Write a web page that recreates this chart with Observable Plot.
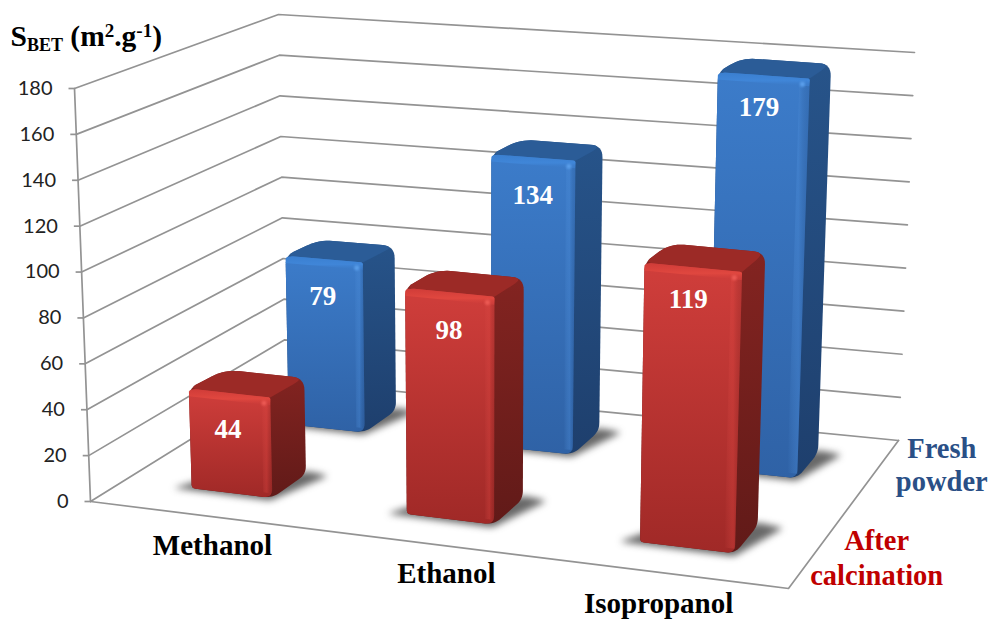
<!DOCTYPE html><html><head><meta charset="utf-8"><style>body{margin:0;background:#fff}svg{display:block}</style></head><body>
<script src="https://cdn.jsdelivr.net/npm/d3@7"></script><script src="https://cdn.jsdelivr.net/npm/@observablehq/plot@0.6"></script>
<script>
// ---- data ----
const solvents = ["Methanol", "Ethanol", "Isopropanol"];
const freshPowder = [79, 134, 179];
const afterCalcination = [44, 98, 119];
const valueTicks = [0, 20, 40, 60, 80, 100, 120, 140, 160, 180];
const yTitle = "SBET (m².g-1)";
const seriesLabels = {fresh: "Fresh\npowder", after: "After\ncalcination"};

// ---- the box of the 3D chart in perspective ----
const vMax = 180;
const floorQuad = [[90,501],[788,588],[898,440],[285,380]];
const wallHeights = [413,435,388,366];   // screen height of the 0-180 range at each floor corner
const vanish = [480,10572];              // where the verticals converge
function homography(p){const [[x0,y0],[x1,y1],[x2,y2],[x3,y3]]=p;const a=x1-x2,b=x3-x2,c=y1-y2,d=y3-y2,sx=x0-x1+x2-x3,sy=y0-y1+y2-y3,den=a*d-b*c,g=(sx*d-b*sy)/den,h=(a*sy-sx*c)/den;return (u,v)=>{const w=g*u+h*v+1;return [((x1-x0+g*x1)*u+(x3-x0+h*x3)*v+x0)/w,((y1-y0+g*y1)*u+(y3-y0+h*y3)*v+y0)/w];};}
const floorH = homography(floorQuad);
function project(u,v,val){
 const [fx,fy]=floorH(u,v);
 const [a,b,c,d]=wallHeights;
 const hgt=a*(1-u)*(1-v)+b*u*(1-v)+c*u*v+d*(1-u)*v;
 const y=fy-hgt*val/vMax;
 return {x:fx+(vanish[0]-fx)*(y-fy)/(vanish[1]-fy),y};
}

// rounded polygon, one radius per vertex
function rounded(pts,rs){const out=[],n=pts.length;pts.forEach((p,i)=>{const r=rs[i],a=pts[(i+n-1)%n],b=pts[(i+1)%n];if(!r){out.push(p);return;}const la=Math.hypot(a.x-p.x,a.y-p.y),lb=Math.hypot(b.x-p.x,b.y-p.y),ra=Math.min(r,la/2)/la,rb=Math.min(r,lb/2)/lb,s={x:p.x+(a.x-p.x)*ra,y:p.y+(a.y-p.y)*ra},e={x:p.x+(b.x-p.x)*rb,y:p.y+(b.y-p.y)*rb};for(let k=0;k<=8;k++){const t=k/8,m=1-t;out.push({x:m*m*s.x+2*m*t*p.x+t*t*e.x,y:m*m*s.y+2*m*t*p.y+t*t*e.y});}});return out;}

const poly=(pts,fill,extra={})=>Plot.line(pts,{x:"x",y:"y",fill,stroke:"none",curve:"linear",...extra});

const barHalf=0.064, duBevel=0.014, dvBevel=3.4, topInset=0.02;
const palettes={
 fresh:{front:"url(#fFront)",side:"url(#fSide)",top:"#2b5c97",bevel:"url(#fBevel)",strip:"url(#fStrip)",spot:"#5a9eea"},
 after:{front:"url(#aFront)",side:"url(#aSide)",top:"#9c2a26",bevel:"url(#aBevel)",strip:"url(#aStrip)",spot:"#ec5a54"}
};
function barMarks(i,val,v0,v1,pal){
 const uc=(i+0.52)/3,u0=uc-barHalf,u1=uc+barHalf;
 const P=project;
 const backTop=u=>({x:P(u,v1,val).x,y:P(u,v1-topInset,val).y});
 const shadow=[P(u0-.026,v0-.012,0),P(u1+.002,v0-.018,0),P(u1+.034,v1+.005,0),P(u1,v1+.02,0),P(u0,v1-.1,0)];
 const front=[P(u0,v0,val),P(u1,v0,val),P(u1,v0,0),P(u0,v0,0)];
 const silhouette=[P(u0,v0,val),backTop(u0),backTop(u1),P(u1,v1,0),P(u1,v0,0),P(u0,v0,0)];
 const top=[P(u0,v0,val),backTop(u0),backTop(u1),P(u1,v0,val)];
 const bevel=[P(u0,v0,val),P(u1,v0,val),P(u1,v0,val-dvBevel),P(u0,v0,val-dvBevel)];
 const strip=[P(u1-duBevel,v0,val-dvBevel),P(u1,v0,val-dvBevel),P(u1,v0,2),P(u1-duBevel,v0,2)];
 return {
  shadow: poly(rounded(shadow,[4,4,4,4,4]),"#2e2e2e",{imageFilter:"blur(3.5px)",fillOpacity:.72}),
  solid:[
   poly(rounded(silhouette,[9,14,12,8,9,4]),pal.side),
   poly(rounded(top,[9,14,12,0]),pal.top),
   poly(rounded(front,[9,2,9,4]),pal.front),
   poly(rounded(bevel,[9,2,0,0]),pal.bevel),
   poly(strip,pal.strip),
   Plot.dot([P(u1-duBevel*.7,v0,val-dvBevel*.8)],{x:"x",y:"y",r:2.6,fill:pal.spot,imageFilter:"blur(1.2px)"})
  ]
 };
}
const series=[
 {key:"fresh",values:freshPowder,v0:.66,v1:.85},
 {key:"after",values:afterCalcination,v0:.155,v1:.33}
];
const bars=series.flatMap(s=>s.values.map((val,i)=>barMarks(i,val,s.v0,s.v1,palettes[s.key])));

// walls and floor
const gridPts=valueTicks.flatMap(t=>[[0,0],[0,1],[1,1]].map(([u,v])=>({...project(u,v,t),t})));
const tickPts=valueTicks.map(t=>({...project(0,0,t),label:String(t)}));
const floorEdges=[[0,0],[1,0],[1,1]].map(([u,v])=>project(u,v,0));
const axisPts=[project(0,0,0),project(0,0,vMax)];
const grey="#939393";
const serif="'Liberation Serif',serif";
const labelDrop=[37,38,32], labelShift=[0,1,-3];
const valueLabels=series.flatMap(s=>s.values.map((val,i)=>{const p=project((i+0.52)/3-.002,s.v0,val);return {x:p.x+labelShift[i],y:p.y+labelDrop[i],label:String(val)};}));
const catShift=[13,24,-6];
const catLabels=solvents.map((name,i)=>({...project((i+0.52)/3,0,0),name,shift:catShift[i]}));
const seriesLab=series.map(s=>({...project(1,(s.v0+s.v1)/2,0),label:seriesLabels[s.key],key:s.key}));

function defs(){
 const svg=d3.create("svg:defs");
 const grad=(id,stops,horiz)=>{const g=svg.append("linearGradient").attr("id",id).attr("x1",0).attr("y1",0).attr("x2",horiz?1:0).attr("y2",horiz?0:1);stops.forEach(([o,c,a])=>g.append("stop").attr("offset",o).attr("stop-color",c).attr("stop-opacity",a??1));};
 grad("fFront",[[0,"#3c7cca"],[1,"#2f62a6"]]);
 grad("fSide",[[0,"#27548a"],[1,"#1e3f6d"]]);
 grad("fBevel",[[0,"#3a7fd0"],[.6,"#4086d8"],[1,"#3c7cca",0]]);
 grad("fStrip",[[0,"#5a9ce6",0],[.5,"#4a8ad6",.4],[1,"#1e3f6d",.2]],true);
 grad("aFront",[[0,"#d03e3b"],[1,"#a02927"]]);
 grad("aSide",[[0,"#842421"],[1,"#611a18"]]);
 grad("aBevel",[[0,"#d03c38"],[.6,"#e0473f"],[1,"#d03e3b",0]]);
 grad("aStrip",[[0,"#e85550",0],[.5,"#d8443f",.35],[1,"#611a18",.2]],true);
 return svg.node();
}

const chart=Plot.plot({
 width:990,height:619,margin:0,
 x:{domain:[0,990],range:[0,990],axis:null},
 y:{domain:[0,619],range:[0,619],axis:null},
 style:{background:"#fff"},
 marks:[
  defs,
  Plot.line(gridPts,{x:"x",y:"y",z:"t",stroke:grey,strokeWidth:1.7,curve:"linear"}),
  Plot.line(floorEdges,{x:"x",y:"y",stroke:grey,strokeWidth:1.7,curve:"linear"}),
  Plot.line(axisPts,{x:"x",y:"y",stroke:grey,strokeWidth:1.7}),
  Plot.link(tickPts,{x1:"x",y1:"y",x2:d=>d.x-6,y2:"y",stroke:grey,strokeWidth:1.7}),
  Plot.text(tickPts,{x:"x",y:"y",text:"label",dx:-22,textAnchor:"end",fontFamily:"Lato",fontSize:20,fill:"#222"}),
  ...bars.slice(0,3).map(b=>b.shadow),
  ...bars.slice(0,3).flatMap(b=>b.solid),
  ...bars.slice(3).map(b=>b.shadow),
  ...bars.slice(3).flatMap(b=>b.solid),
  Plot.text(valueLabels,{x:"x",y:"y",text:"label",fontFamily:serif,fontWeight:"bold",fontSize:27,fill:"#fff"}),
  Plot.text(catLabels,{x:d=>d.x+d.shift,y:"y",text:"name",dy:31,fontFamily:serif,fontWeight:"bold",fontSize:29,fill:"#000"}),
  Plot.text(seriesLab.filter(d=>d.key==="fresh"),{x:"x",y:"y",text:"label",dx:67,dy:-8,fontFamily:serif,fontWeight:"bold",fontSize:28.5,lineHeight:1.16,fill:"#2a4f86"}),
  Plot.text(seriesLab.filter(d=>d.key==="after"),{x:"x",y:"y",text:"label",dx:58,dy:8,fontFamily:serif,fontWeight:"bold",fontSize:28.5,lineHeight:1.23,fill:"#c00000"}),
  Plot.text([yTitle],{frameAnchor:"top-left",dx:10,dy:25,textAnchor:"start",fontFamily:serif,fontWeight:"bold",fontSize:29.5,fill:"#000"})
 ]
});
document.body.append(chart);
// subscripts and superscripts of the axis title
d3.select(chart).selectAll("text").filter(function(){return this.textContent===yTitle;}).each(function(){
 const t=d3.select(this);t.text(null);
 const parts=[["S",0,29.5],["BET",5,18],[" (m",-5,29.5],["2",-9,19],[".g",9,29.5],["-1",-9,19],[")",9,29.5]];
 parts.forEach(([s,dy,fs])=>t.append("tspan").attr("dy",dy).attr("font-size",fs).text(s));
});
</script></body></html>
